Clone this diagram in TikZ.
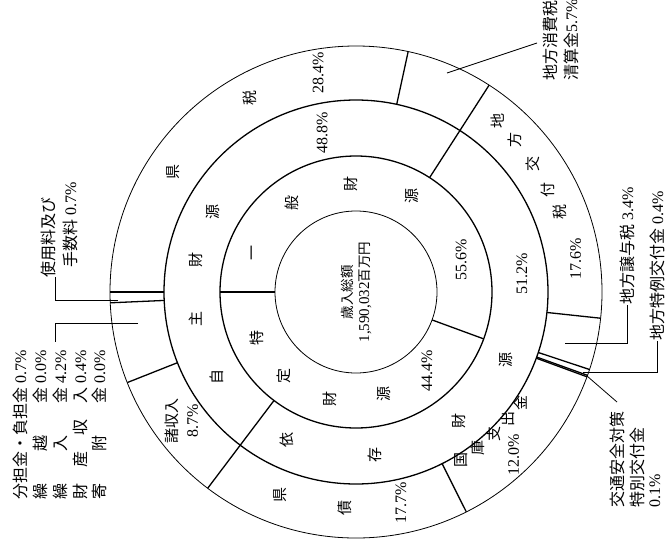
\documentclass[tikz,border=0pt]{standalone}
\usepackage{fontspec}
\setmainfont{Liberation Serif}
\newfontfamily\jp{Noto Sans CJK JP}
\tikzset{
  thinline/.style={line width=0.8pt},
  thickline/.style={line width=1.3pt},
  leader/.style={line width=0.8pt},
  rc/.style={rotate=90, inner sep=0pt, font=\jp\fontsize{15}{15}\selectfont},
  rn/.style={rotate=90, inner sep=0pt, font=\fontsize{16}{16}\selectfont},
  lab/.style={rotate=90, inner sep=0pt, anchor=west, font=\fontsize{16}{16}\selectfont},
}
\begin{document}
\begin{tikzpicture}[x=1pt,y=1pt]
\useasboundingbox (0,0) rectangle (666,-549);
\coordinate (C) at (356,-292);
\begin{scope}[shift={(C)}]
  % rings
  \draw[thinline] (0,0) circle[radius=81];
  \draw[thickline] (0,0) circle[radius=136];
  \draw[thickline] (0,0) circle[radius=192];
  \draw[thinline] (0,0) circle[radius=246];
  % inner ring boundaries
  \foreach \a in {180,-20.16} \draw[thickline] (\a:81) -- (\a:136);
  % middle ring boundaries (continue through outer ring)
  \foreach \a in {57.24,232.92} \draw[thickline] (\a:136) -- (\a:246);
  % outer ring boundaries
  \foreach \a in {77.76,180,182.52,201.6,296.64,339.84,340.2,341.64,353.88}
    \draw[thickline] (\a:192) -- (\a:246);
  % centre
  \node[rotate=90, align=center, inner sep=0pt, font=\fontsize{13.5}{17}\selectfont] (total) at (0,0)
    {{\jp 歳入総額}\\{\fontsize{15}{17}\selectfont 1,590,032}{\jp 百万円}};
  % inner ring
  \node[rc] (i1) at (158.9:109) {一};
  \node[rc] (i2) at (126:110) {般};
  \node[rc] (i3) at (93:108) {財};
  \node[rc] (i4) at (60:111) {源};
  \node[rn] (i5) at (17:110) {55.6\%};
  \node[rc] (i6) at (205:109) {特};
  \node[rc] (i7) at (229.5:111) {定};
  \node[rc] (i8) at (256:110) {財};
  \node[rc] (i9) at (285:106) {源};
  \node[rn] (i10) at (312:106) {44.4\%};
  % middle ring
  \node[rc] (m1) at (211.4:163) {自};
  \node[rc] (m2) at (189.5:163) {主};
  \node[rc] (m3) at (168.5:163) {財};
  \node[rc] (m4) at (150.8:164) {源};
  \node[rn] (m5) at (102:163) {48.8\%};
  \node[rc] (m6) at (245:163) {依};
  \node[rc] (m7) at (276.5:164) {存};
  \node[rc] (m8) at (308.5:165) {財};
  \node[rc] (m9) at (335.5:165) {源};
  \node[rn] (m10) at (6.2:167) {51.2\%};
  % outer ring
  \node[rc] (o1) at (146.7:219) {県};
  \node[rc] (o2) at (118.6:221) {税};
  \node[rn] (o3) at (99.8:222) {28.4\%};
  \node[rc] (o4) at (50.5:222) {地};
  \node[rc] (o5) at (43.7:220) {方};
  \node[rc] (o6) at (35.8:218) {交};
  \node[rc] (o7) at (28:217) {付};
  \node[rc] (o8) at (21.5:219) {税};
  \node[rn] (o9) at (8.5:222) {17.6\%};
  \node[rotate=90, align=center, inner sep=0pt, font=\fontsize{16}{20}\selectfont] (o10) at (216.5:217)
    {{\jp\fontsize{15}{20}\selectfont 諸収入}\\8.7\%};
  \node[rc] (o11) at (249.5:217) {県};
  \node[rc] (o12) at (267:216) {債};
  \node[rn] (o13) at (282:216) {17.7\%};
  \node[rc] (o14) at (302:198) {国};
  \node[rc] (o15) at (308:198) {庫};
  \node[rc] (o16) at (314:198) {支};
  \node[rc] (o17) at (320:198) {出};
  \node[rc] (o18) at (326:199) {金};
  \node[rn] (o19) at (314:227) {12.0\%};
\end{scope}
% outside labels
\node[lab] (la1) at (550,-81) {{\jp 地方消費税}};
\node[lab] (la2) at (571,-81) {{\jp 清算金}5.7\%};
\node[lab] (lb) at (627,-305) {{\jp 地方譲与税}~3.4\%};
\node[lab] (lc) at (657,-341) {{\jp 地方特例交付金}~0.4\%};
\node[lab] (ld1) at (617,-508) {{\jp 交通安全対策}};
\node[lab] (ld2) at (637,-508) {{\jp 特別交付金}};
\node[lab] (ld3) at (655,-508) {0.1\%};
\node[lab] (le1) at (48,-278) {{\jp 使用料及び}};
\node[lab] (le2) at (70,-268) {{\jp 手数料}~0.7\%};
\node[lab] (lf1) at (20,-500) {\makebox[112pt][l]{\jp 分担金・負担金}~0.7\%};
\node[lab] (lf2) at (40,-500) {\makebox[112pt]{\jp 繰\hfill 越\hfill 金}~0.0\%};
\node[lab] (lf3) at (60,-500) {\makebox[112pt]{\jp 繰\hfill 入\hfill 金}~4.2\%};
\node[lab] (lf4) at (80,-500) {\makebox[112pt]{\jp 財\hfill 産\hfill 収\hfill 入}~0.4\%};
\node[lab] (lf5) at (99,-500) {\makebox[112pt]{\jp 寄\hfill 附\hfill 金}~0.0\%};
% leader lines
\coordinate (pa) at (447,-73);   \coordinate (qa) at (537,-43);
\coordinate (pb) at (565,-343);  \coordinate (qb) at (627,-343);
\coordinate (pc) at (583,-372);  \coordinate (qc) at (657,-372);
\coordinate (pd) at (587,-376);  \coordinate (qd) at (617,-402);
\coordinate (pe) at (118,-300);  \coordinate (qe) at (55,-300);
\coordinate (pf) at (138,-323);  \coordinate (qf) at (55,-323);
\draw[leader] (pa) -- (qa);
\draw[leader] (pb) -- (qb) -- (lb.west);
\draw[leader] (pc) -- (qc) -- (lc.west);
\draw[leader] (pd) -- (qd);
\draw[leader] (pe) -- (qe) -- ++(0,23);
\draw[leader] (pf) -- (qf) -- ++(0,-19);
\end{tikzpicture}
\end{document}
